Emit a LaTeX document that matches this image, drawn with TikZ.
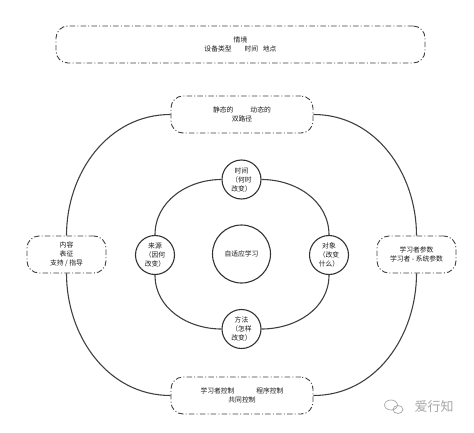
\documentclass[tikz,border=0pt]{standalone}
\usepackage{fontspec}
\setmainfont{Noto Sans CJK SC}
\begin{document}
\begin{tikzpicture}[x=1pt,y=1pt,
  txt/.style={text=black!90, font=\fontsize{6.8pt}{9pt}\selectfont, align=center, inner sep=0pt},
  dbox/.style={txt, draw=black!75, line width=0.9pt, rounded corners=12pt,
    dash pattern=on 5.5pt off 2.2pt on 1pt off 2.2pt, minimum height=37pt},
  circ/.style={txt, draw=black!80, line width=1.1pt, circle, minimum size=39pt},
  link/.style={draw=black!75, line width=1.1pt}]
\useasboundingbox (0,0) rectangle (474,432);
% boxes
\node[dbox, minimum width=369pt] (ctx) at (240.5,387.5) {情境\\设备类型\hspace{1.9em}时间\hspace{0.7em}地点};
\node[dbox, minimum width=142pt] (path) at (242,317.5) {静态的\hspace{2.5em}动态的\\双路径};
\node[dbox, minimum width=79pt] (left) at (66.5,177.5) {内容\\表征\\支持 / 指导};
\node[dbox, minimum width=79pt] (right) at (416.5,177.5) {学习者参数\\学习者 - 系统参数};
\node[dbox, minimum width=142pt] (ctrl) at (242,36.5) {学习者控制\hspace{3.2em}程序控制\\共同控制};
% circles
\node[circ] (time) at (241.5,252.5) {时间\\（何时\\改变）};
\node[circ] (src) at (155,177) {来源\\（因何\\改变）};
\node[circ] (obj) at (329,177) {对象\\（改变\\什么）};
\node[circ] (meth) at (241.5,103) {方法\\（怎样\\改变）};
\node[circ, minimum size=58pt] (core) at (241.5,178) {自适应学习};
% outer ring
\draw[link] (path.west) to[out=180,in=90] (left.north);
\draw[link] (path.east) to[out=0,in=90] (right.north);
\draw[link] (left.south) to[out=-90,in=180] (ctrl.west);
\draw[link] (right.south) to[out=-90,in=0] (ctrl.east);
% inner ring
\draw[link] (time.west) to[out=180,in=90] (src.north);
\draw[link] (time.east) to[out=0,in=90] (obj.north);
\draw[link] (src.south) to[out=-90,in=180] (meth.west);
\draw[link] (obj.south) to[out=-90,in=0] (meth.east);
% watermark
\draw[black!35, line width=0.7pt] (391,27) ellipse (6.5pt and 5pt);
\draw[black!35, line width=0.7pt] (398,22.5) ellipse (5pt and 4pt);
\node[text=black!35, font=\fontsize{13pt}{13pt}\selectfont, inner sep=0pt] (wm) at (434,25) {爱行知};
\end{tikzpicture}
\end{document}
